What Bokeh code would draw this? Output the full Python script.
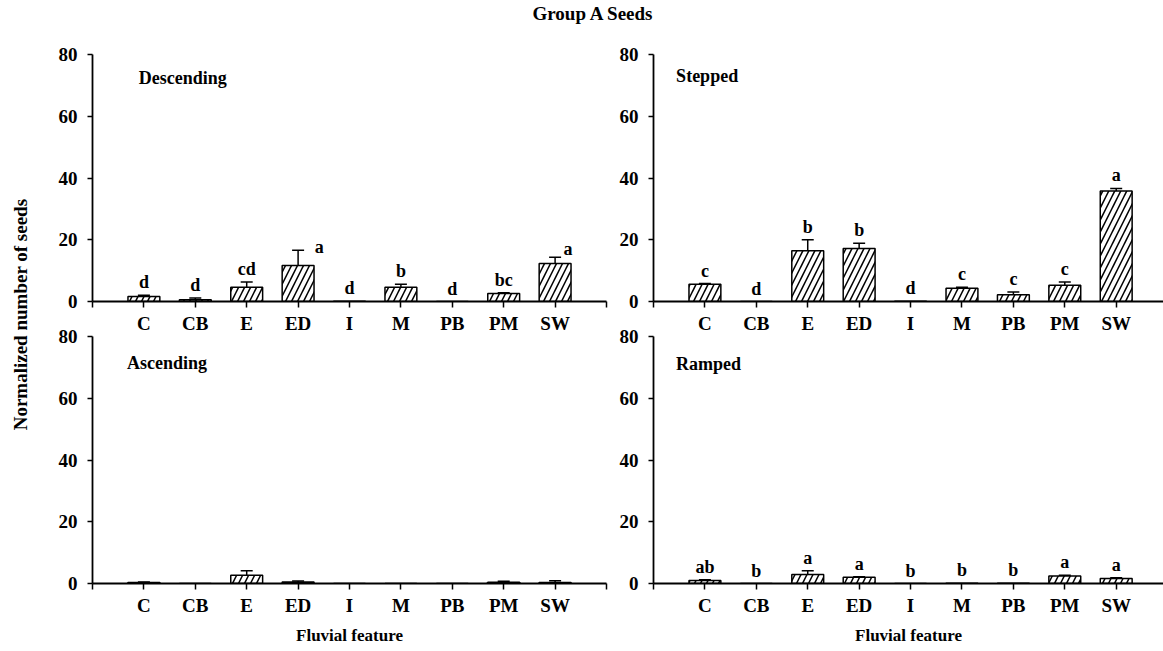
from math import pi

from bokeh.core.properties import value
from bokeh.embed import file_html
from bokeh.layouts import column, row
from bokeh.models import (ColumnDataSource, Div, FixedTicker, Label, Range1d,
                          TeeHead, Whisker)
from bokeh.plotting import figure
from bokeh.resources import INLINE

# ---- data -------------------------------------------------------------
features = ["C", "CB", "E", "ED", "I", "M", "PB", "PM", "SW"]

descending_mean = [1.6, 0.6, 4.6, 11.7, 0.1, 4.6, 0.0, 2.6, 12.3]
descending_se = [0.4, 0.5, 1.7, 4.9, 0.0, 1.0, 0.0, 0.2, 2.0]
descending_letters = ["d", "d", "cd", "a", "d", "b", "d", "bc", "a"]

stepped_mean = [5.6, 0.0, 16.4, 17.2, 0.1, 4.3, 2.2, 5.3, 35.8]
stepped_se = [0.2, 0.0, 3.6, 1.7, 0.0, 0.3, 0.9, 1.0, 0.8]
stepped_letters = ["c", "d", "b", "b", "d", "c", "c", "c", "a"]

ascending_mean = [0.3, 0.0, 2.7, 0.5, 0.0, 0.0, 0.0, 0.4, 0.3]
ascending_se = [0.2, 0.0, 1.4, 0.3, 0.0, 0.0, 0.0, 0.3, 0.6]
ascending_letters = None

ramped_mean = [1.0, 0.0, 2.9, 2.0, 0.0, 0.1, 0.1, 2.4, 1.6]
ramped_se = [0.2, 0.0, 1.2, 0.2, 0.0, 0.0, 0.0, 0.3, 0.3]
ramped_letters = ["ab", "b", "a", "a", "b", "b", "b", "a", "a"]

y_ticks = [0, 20, 40, 60, 80]

# ---- styling ----------------------------------------------------------
FONT = "Liberation Serif"
BAR_WIDTH = 0.62
LETTER_GAP = -13
# letters that sit beside the error cap instead of above it: (dx, dy px)
letter_shift = {("Descending", "ED"): (0.41, -3), ("Descending", "SW"): (0.25, -8)}


def panel(name, mean, se, letters, width, height, borders, x_end, x_label,
          title_pos):
    left, right, top, bottom = borders
    p = figure(width=width, height=height, output_backend="svg",
               toolbar_location=None, x_range=Range1d(0, x_end),
               y_range=Range1d(0, 80), min_border_left=left,
               min_border_right=right, min_border_top=top,
               min_border_bottom=bottom)
    p.outline_line_color = None
    p.grid.visible = False
    p.background_fill_color = None
    p.border_fill_color = None

    xs = list(range(1, len(features) + 1))
    tops = [m + s for m, s in zip(mean, se)]
    src = ColumnDataSource(dict(x=xs, mean=mean, top=tops))
    p.vbar(x="x", top="mean", bottom=0, width=BAR_WIDTH, source=src,
           fill_color="white", line_color="black", line_width=1.5,
           hatch_pattern="/", hatch_color="black", hatch_weight=1.5,
           hatch_scale=12)

    wsrc = ColumnDataSource(dict(
        x=[x for x, s in zip(xs, se) if s > 0],
        lo=[m for m, s in zip(mean, se) if s > 0],
        hi=[t for t, s in zip(tops, se) if s > 0]))
    p.add_layout(Whisker(base="x", lower="lo", upper="hi", source=wsrc,
                         line_color="black", line_width=1.5,
                         lower_head=None,
                         upper_head=TeeHead(size=12, line_width=1.5,
                                            line_color="black")))

    if letters:
        lx, ly, dy = [], [], []
        for x, f, t in zip(xs, features, tops):
            ddx, ddy = letter_shift.get((name, f), (0.0, LETTER_GAP))
            lx.append(x + ddx)
            ly.append(t)
            dy.append(ddy)
        lsrc = ColumnDataSource(dict(x=lx, y=ly, text=letters, dy=dy))
        p.text(x="x", y="y", text="text", y_offset="dy", source=lsrc,
               text_font=value(FONT), text_font_style="bold",
               text_font_size="18px", text_align="center",
               text_baseline="alphabetic", text_color="black")

    p.add_layout(Label(x=title_pos[0], y=title_pos[1], text=name,
                       text_font=FONT, text_font_style="bold",
                       text_font_size="18px", text_baseline="middle",
                       text_color="black"))

    xa = p.xaxis[0]
    xa.ticker = FixedTicker(ticks=list(range(0, 11)))
    overrides = {i + 1: f for i, f in enumerate(features)}
    overrides.update({0: "", 10: ""})
    xa.major_label_overrides = overrides
    xa.major_tick_in = 0
    xa.major_tick_out = 6
    xa.minor_tick_line_color = None
    xa.major_label_standoff = 5
    xa.axis_line_width = 1.8
    xa.major_tick_line_width = 1.5
    xa.major_label_text_font = FONT
    xa.major_label_text_font_style = "bold"
    xa.major_label_text_font_size = "19px"
    xa.major_label_text_color = "black"
    if x_label:
        xa.axis_label = x_label
        xa.axis_label_text_font = FONT
        xa.axis_label_text_font_style = "bold"
        xa.axis_label_text_font_size = "17px"
        xa.axis_label_text_color = "black"
        xa.axis_label_standoff = 7

    ya = p.yaxis[0]
    ya.ticker = FixedTicker(ticks=y_ticks)
    ya.major_tick_in = 0
    ya.major_tick_out = 5
    ya.minor_tick_line_color = None
    ya.major_label_standoff = 10
    ya.axis_line_width = 1.8
    ya.major_tick_line_width = 1.5
    ya.major_label_text_font = FONT
    ya.major_label_text_font_style = "bold"
    ya.major_label_text_font_size = "19px"
    ya.major_label_text_color = "black"
    return p


top_h = 308
bot_h = 327
tl = panel("Descending", descending_mean, descending_se, descending_letters,
           570, top_h, (52, 4, 26, 33), 10, None, (0.9, 72.3))
tr = panel("Stepped", stepped_mean, stepped_se, stepped_letters,
           553, top_h, (43, 0, 26, 33), 9.92, None, (0.44, 72.9))
bl = panel("Ascending", ascending_mean, ascending_se, ascending_letters,
           570, bot_h, (52, 4, 12, 68), 10, "Fluvial feature", (0.67, 71.4))
br = panel("Ramped", ramped_mean, ramped_se, ramped_letters,
           553, bot_h, (43, 0, 12, 68), 9.92, "Fluvial feature", (0.44, 71.0))

# shared y-axis title on a narrow blank strip
ylab = figure(width=40, height=623, output_backend="svg",
              toolbar_location=None, x_range=Range1d(0, 1),
              y_range=Range1d(0, 1), x_axis_type=None, y_axis_type=None,
              min_border=0)
ylab.outline_line_color = None
ylab.grid.visible = False
ylab.add_layout(Label(x=0.5, y=0.541, text="Normalized number of seeds",
                      angle=pi / 2, text_font=FONT, text_font_style="bold",
                      text_font_size="19px", text_align="center",
                      text_baseline="middle", text_color="black"))

title = Div(
    text=('<div style="width:1163px;padding-left:22px;box-sizing:border-box;'
          'text-align:center;font-family:\'Liberation Serif\';font-weight:bold;'
          'font-size:19px;line-height:28px;color:black">'
          'Group A Seeds</div>'),
    width=1163, height=28)
title.margin = (0, 0, 0, 0)

bottom_row = row(bl, br)
bottom_row.margin = (-12, 0, 0, 0)
grid = column(row(tl, tr), bottom_row)
layout = column(title, row(ylab, grid))

open("out.html", "w").write(file_html(layout, INLINE))
